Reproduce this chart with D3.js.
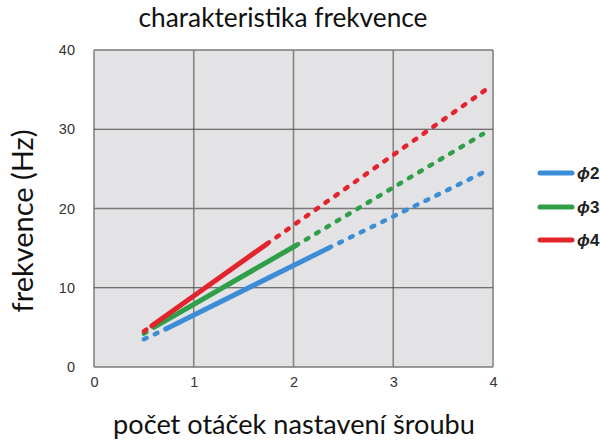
<!DOCTYPE html>
<html><head><meta charset="utf-8">
<script src="https://cdn.jsdelivr.net/npm/d3@7"></script>
<style>body{margin:0;background:#fff;} svg{display:block;}</style>
</head><body>
<svg id="c" width="600" height="445"></svg>
<script>
const xTicks = [0, 1, 2, 3, 4];
const yTicks = [0, 10, 20, 30, 40];
const seriesNames = ["\u03d52", "\u03d53", "\u03d54"];
const seriesColors = ["#3b8ed6", "#2f9f49", "#e2242d"];
// each series: low dashed part, solid part, high dashed part  [x, y]
const blueLow = [[0.5, 3.5], [0.72, 4.8]];
const blueSolid = [[0.72, 4.8], [2.35, 15.0]];
const blueHigh = [[2.35, 15.0], [3.96, 24.9]];
const greenLow = [[0.5, 4.2], [0.6, 5.0]];
const greenSolid = [[0.6, 5.0], [2.02, 15.3]];
const greenHigh = [[2.02, 15.3], [3.9, 29.4]];
const redLow = [[0.5, 4.5], [0.58, 5.2]];
const redSolid = [[0.58, 5.2], [1.73, 15.5]];
const redHigh = [[1.73, 15.5], [3.93, 35.0]];

const svg = d3.select("#c");
const x = d3.scaleLinear().domain([0, 4]).range([94, 493]);
const y = d3.scaleLinear().domain([0, 40]).range([367, 50]);

// plot background
svg.append("rect").attr("x", x(0)).attr("y", y(40)).attr("width", x(4) - x(0)).attr("height", y(0) - y(40))
  .attr("fill", "#e3e3e6");

// grid
svg.append("g").selectAll("line").data(xTicks).join("line")
  .attr("x1", d => x(d)).attr("x2", d => x(d)).attr("y1", y(0)).attr("y2", y(40))
  .attr("stroke", "#858585").attr("stroke-width", 1.6);
svg.append("g").selectAll("line").data(yTicks).join("line")
  .attr("x1", x(0)).attr("x2", x(4)).attr("y1", d => y(d)).attr("y2", d => y(d))
  .attr("stroke", d => (d === 30 || d === 10) ? "#4a4a4a" : "#7a7a7a").attr("stroke-width", d => (d === 30 || d === 10) ? 1.2 : 1.6);

// axes labels via d3 axis
const xAxis = svg.append("g").attr("transform", `translate(0,${y(0)})`)
  .call(d3.axisBottom(x).tickValues(xTicks).tickFormat(d3.format("d")).tickSize(0).tickPadding(10));
const yAxis = svg.append("g").attr("transform", `translate(${x(0)},0)`)
  .call(d3.axisLeft(y).tickValues(yTicks).tickFormat(d3.format("d")).tickSize(0).tickPadding(19));
[xAxis, yAxis].forEach(a => {
  a.select(".domain").remove();
  a.selectAll("text").attr("font-family", "'Liberation Sans', Arial, sans-serif").attr("font-size", 14.5).attr("fill", "#333");
});

// lines
const line = d3.line().x(d => x(d[0])).y(d => y(d[1]));
const all = [
  [blueLow, blueSolid, blueHigh],
  [greenLow, greenSolid, greenHigh],
  [redLow, redSolid, redHigh]
];
const g = svg.append("g");
all.forEach((parts, i) => {
  const col = seriesColors[i];
  g.append("path").datum(parts[0]).attr("d", line).attr("fill", "none").attr("stroke", col)
    .attr("stroke-width", 4.5).attr("stroke-linecap", "round").attr("stroke-dasharray", "3,9");
  g.append("path").datum(parts[2]).attr("d", line).attr("fill", "none").attr("stroke", col)
    .attr("stroke-width", 4.5).attr("stroke-linecap", "round").attr("stroke-dasharray", "3,9");
  g.append("path").datum(parts[1]).attr("d", line).attr("fill", "none").attr("stroke", col)
    .attr("stroke-width", 5).attr("stroke-linecap", "round");
});

// legend
const legY = [173, 207, 240];
const leg = svg.append("g");
seriesNames.forEach((n, i) => {
  leg.append("line").attr("x1", 540).attr("x2", 572).attr("y1", legY[i]).attr("y2", legY[i])
    .attr("stroke", seriesColors[i]).attr("stroke-width", 5).attr("stroke-linecap", "round");
  const t = leg.append("text").attr("x", 577).attr("y", legY[i] + 6)
    .attr("font-family", "'Liberation Sans', Arial, sans-serif").attr("font-size", 17).attr("font-weight", "bold").attr("fill", "#222");
  t.append("tspan").attr("font-style", "italic").text(n.charAt(0));
  t.append("tspan").text(n.slice(1));
});

// titles
function fitText(sel, w) {
  const l = sel.node().getComputedTextLength();
  const fs = +sel.attr("font-size");
  sel.attr("font-size", fs * w / l);
}
const font = "Lato, 'Open Sans', sans-serif";
const title = svg.append("text").attr("x", 283).attr("y", 27).attr("text-anchor", "middle")
  .attr("font-family", font).attr("font-size", 22).attr("fill", "#111").text("charakteristika frekvence");
fitText(title, 289);
const xl = svg.append("text").attr("x", 294).attr("y", 434).attr("text-anchor", "middle")
  .attr("font-family", font).attr("font-size", 22).attr("fill", "#111").text("počet otáček nastavení šroubu");
fitText(xl, 362);
const yl = svg.append("text").attr("transform", "translate(33,221) rotate(-90)").attr("text-anchor", "middle")
  .attr("font-family", font).attr("font-size", 22).attr("fill", "#111").text("frekvence (Hz)");
fitText(yl, 183);
</script>
</body></html>
